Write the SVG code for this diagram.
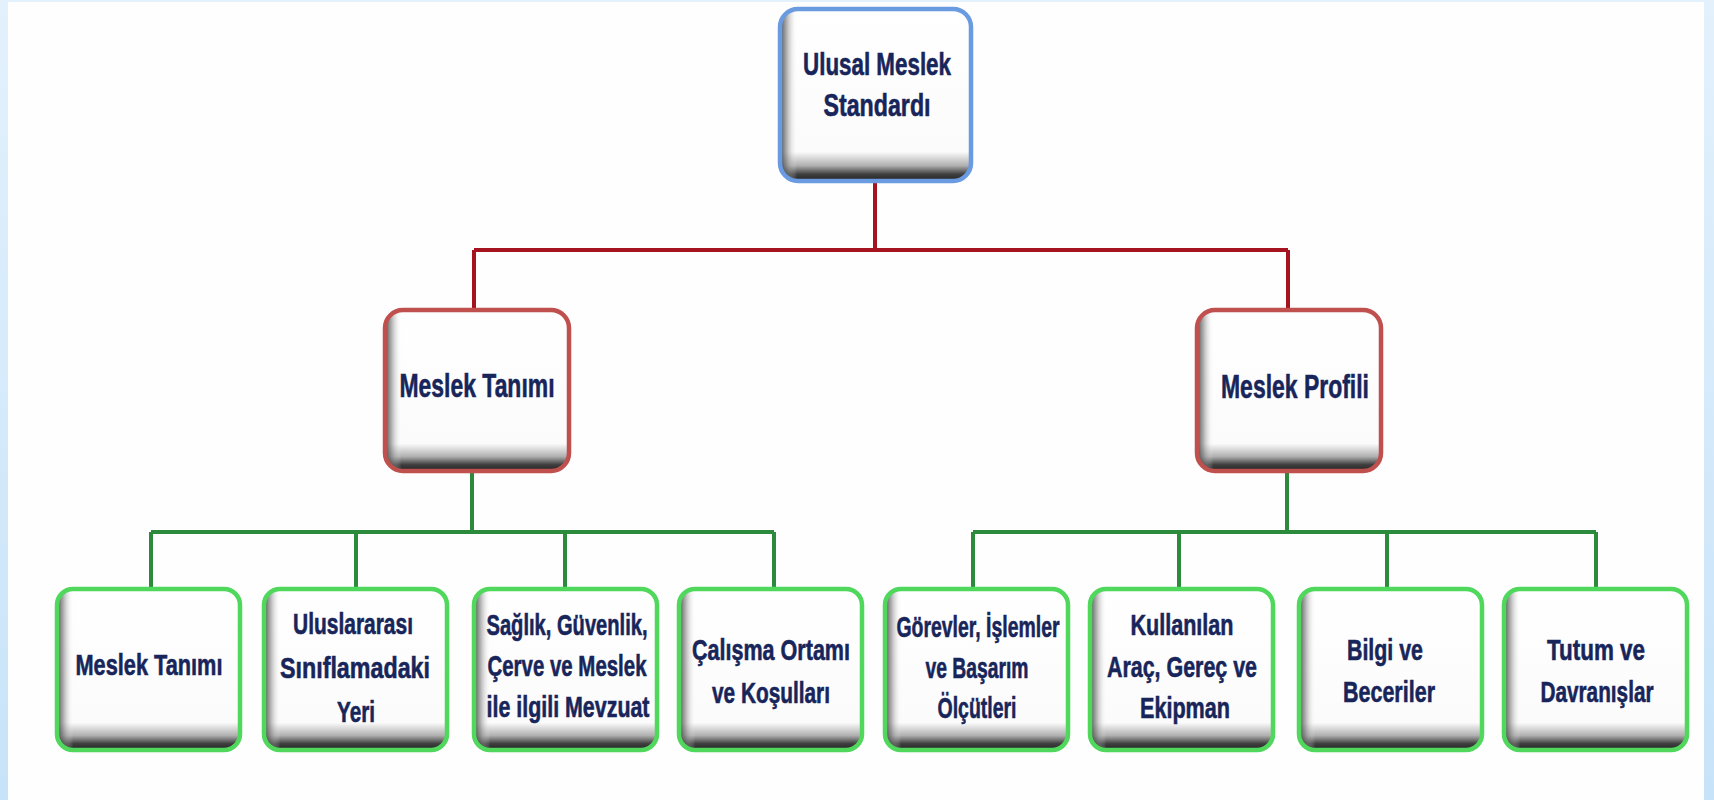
<svg xmlns="http://www.w3.org/2000/svg" width="1714" height="800" viewBox="0 0 1714 800">
<defs>
<linearGradient id="bgBlue" x1="0" y1="0" x2="0" y2="1">
<stop offset="0" stop-color="#e3f1fc"/>
<stop offset="1" stop-color="#c7e3f9"/>
</linearGradient>
<linearGradient id="shadeV" x1="0" y1="0" x2="0" y2="1">
<stop offset="0" stop-color="#ffffff"/>
<stop offset="0.83" stop-color="#fbfbfb"/>
<stop offset="0.91" stop-color="#b0b0b0"/>
<stop offset="0.96" stop-color="#404040"/>
<stop offset="1" stop-color="#222222"/>
</linearGradient>
<linearGradient id="shadeH" x1="0" y1="0" x2="1" y2="0">
<stop offset="0" stop-color="#333333" stop-opacity="0.9"/>
<stop offset="0.035" stop-color="#707070" stop-opacity="0.55"/>
<stop offset="0.09" stop-color="#ffffff" stop-opacity="0"/>
</linearGradient>
<style>
.face{fill:url(#shadeV);}
.side{fill:url(#shadeH);}
.bTop{fill:none;stroke:#6a9ae0;stroke-width:4.5;}
.bMid{fill:none;stroke:#c0504d;stroke-width:4.5;}
.bBot{fill:none;stroke:#4fd85c;stroke-width:4.5;}
.red{fill:none;stroke:#a5131f;stroke-width:4;}
.green{fill:none;stroke:#2b8a3b;stroke-width:4;}
.t{font-family:"Liberation Sans Narrow","Liberation Sans",Arial,sans-serif;font-weight:bold;fill:#17255a;stroke:#17255a;stroke-width:0.6;text-anchor:middle;}
.t1{font-size:32px;}
.t2{font-size:34px;}
.t3{font-size:30px;}
</style>
</defs>

<rect x="0" y="0" width="1714" height="800" fill="url(#bgBlue)"/>
<rect x="8" y="2" width="1696" height="798" fill="#fefefe"/>

<g id="connectors">
<path class="red" d="M875 180 V250 M474 250 H1288 M474 250 V312 M1288 250 V312"/>
<path class="green" d="M472 470 V532 M1287 470 V532 M151 532 H774 M973 532 H1596 M151 532 V590 M356 532 V590 M565 532 V590 M774 532 V590 M973 532 V590 M1179 532 V590 M1387 532 V590 M1596 532 V590"/>
</g>

<g id="n-ulusal">
<rect class="face" x="780" y="9" width="191" height="172" rx="18"/>
<rect class="side" x="780" y="9" width="191" height="172" rx="18"/>
<rect class="bTop" x="780" y="9" width="191" height="172" rx="18"/>
<text class="t t1" x="877" y="75" textLength="148" lengthAdjust="spacingAndGlyphs">Ulusal Meslek</text>
<text class="t t1" x="877" y="116" textLength="107" lengthAdjust="spacingAndGlyphs">Standardı</text>
</g>

<g id="n-meslek-tanimi">
<rect class="face" x="385" y="310" width="184" height="161" rx="18"/>
<rect class="side" x="385" y="310" width="184" height="161" rx="18"/>
<rect class="bMid" x="385" y="310" width="184" height="161" rx="18"/>
<text class="t t2" x="477" y="397" textLength="155" lengthAdjust="spacingAndGlyphs">Meslek Tanımı</text>
</g>

<g id="n-meslek-profili">
<rect class="face" x="1197" y="310" width="184" height="161" rx="18"/>
<rect class="side" x="1197" y="310" width="184" height="161" rx="18"/>
<rect class="bMid" x="1197" y="310" width="184" height="161" rx="18"/>
<text class="t t2" x="1295" y="398" textLength="148" lengthAdjust="spacingAndGlyphs">Meslek Profili</text>
</g>

<g id="n-b1">
<rect class="face" x="57" y="589" width="183" height="161" rx="16"/>
<rect class="side" x="57" y="589" width="183" height="161" rx="16"/>
<rect class="bBot" x="57" y="589" width="183" height="161" rx="16"/>
<text class="t t3" x="149" y="675" textLength="147" lengthAdjust="spacingAndGlyphs">Meslek Tanımı</text>
</g>

<g id="n-b2">
<rect class="face" x="264" y="589" width="183" height="161" rx="16"/>
<rect class="side" x="264" y="589" width="183" height="161" rx="16"/>
<rect class="bBot" x="264" y="589" width="183" height="161" rx="16"/>
<text class="t t3" x="353" y="634" textLength="120" lengthAdjust="spacingAndGlyphs">Uluslararası</text>
<text class="t t3" x="355" y="678" textLength="150" lengthAdjust="spacingAndGlyphs">Sınıflamadaki</text>
<text class="t t3" x="356" y="722" textLength="38" lengthAdjust="spacingAndGlyphs">Yeri</text>
</g>

<g id="n-b3">
<rect class="face" x="474" y="589" width="183" height="161" rx="16"/>
<rect class="side" x="474" y="589" width="183" height="161" rx="16"/>
<rect class="bBot" x="474" y="589" width="183" height="161" rx="16"/>
<text class="t t3" x="567" y="635" textLength="161" lengthAdjust="spacingAndGlyphs">Sağlık, Güvenlik,</text>
<text class="t t3" x="567" y="676" textLength="159" lengthAdjust="spacingAndGlyphs">Çerve ve Meslek</text>
<text class="t t3" x="568" y="717" textLength="163" lengthAdjust="spacingAndGlyphs">ile ilgili Mevzuat</text>
</g>

<g id="n-b4">
<rect class="face" x="679" y="589" width="183" height="161" rx="16"/>
<rect class="side" x="679" y="589" width="183" height="161" rx="16"/>
<rect class="bBot" x="679" y="589" width="183" height="161" rx="16"/>
<text class="t t3" x="771" y="660" textLength="158" lengthAdjust="spacingAndGlyphs">Çalışma Ortamı</text>
<text class="t t3" x="771" y="703" textLength="118" lengthAdjust="spacingAndGlyphs">ve Koşulları</text>
</g>

<g id="n-b5">
<rect class="face" x="885" y="589" width="183" height="161" rx="16"/>
<rect class="side" x="885" y="589" width="183" height="161" rx="16"/>
<rect class="bBot" x="885" y="589" width="183" height="161" rx="16"/>
<text class="t t3" x="978" y="637" textLength="163" lengthAdjust="spacingAndGlyphs">Görevler, İşlemler</text>
<text class="t t3" x="977" y="678" textLength="103" lengthAdjust="spacingAndGlyphs">ve Başarım</text>
<text class="t t3" x="977" y="718" textLength="79" lengthAdjust="spacingAndGlyphs">Ölçütleri</text>
</g>

<g id="n-b6">
<rect class="face" x="1090" y="589" width="183" height="161" rx="16"/>
<rect class="side" x="1090" y="589" width="183" height="161" rx="16"/>
<rect class="bBot" x="1090" y="589" width="183" height="161" rx="16"/>
<text class="t t3" x="1182" y="635" textLength="103" lengthAdjust="spacingAndGlyphs">Kullanılan</text>
<text class="t t3" x="1182" y="677" textLength="150" lengthAdjust="spacingAndGlyphs">Araç, Gereç ve</text>
<text class="t t3" x="1185" y="718" textLength="90" lengthAdjust="spacingAndGlyphs">Ekipman</text>
</g>

<g id="n-b7">
<rect class="face" x="1299" y="589" width="183" height="161" rx="16"/>
<rect class="side" x="1299" y="589" width="183" height="161" rx="16"/>
<rect class="bBot" x="1299" y="589" width="183" height="161" rx="16"/>
<text class="t t3" x="1385" y="660" textLength="76" lengthAdjust="spacingAndGlyphs">Bilgi ve</text>
<text class="t t3" x="1389" y="702" textLength="92" lengthAdjust="spacingAndGlyphs">Beceriler</text>
</g>

<g id="n-b8">
<rect class="face" x="1504" y="589" width="183" height="161" rx="16"/>
<rect class="side" x="1504" y="589" width="183" height="161" rx="16"/>
<rect class="bBot" x="1504" y="589" width="183" height="161" rx="16"/>
<text class="t t3" x="1596" y="660" textLength="98" lengthAdjust="spacingAndGlyphs">Tutum ve</text>
<text class="t t3" x="1597" y="702" textLength="113" lengthAdjust="spacingAndGlyphs">Davranışlar</text>
</g>
</svg>
